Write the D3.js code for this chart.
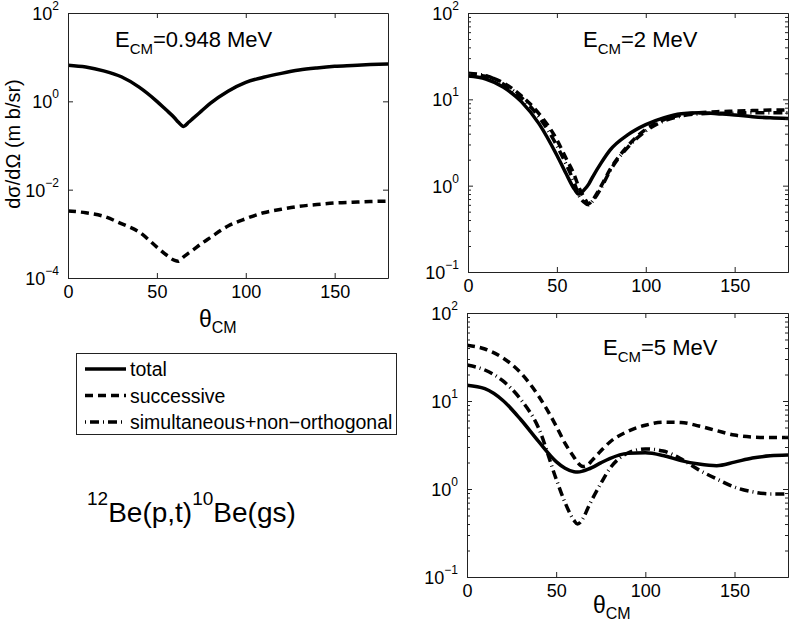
<!DOCTYPE html>
<html>
<head>
<meta charset="utf-8">
<script src="https://cdn.jsdelivr.net/npm/d3@7"></script>
<style>
body { margin: 0; background: #fff; }
svg { display: block; font-family: "Liberation Sans", Arial, sans-serif; }
</style>
</head>
<body>
<svg width="789" height="623"></svg>
<script>
'use strict';

// scattering angle grid (degrees), shared by every curve
var theta = [0, 10, 20, 30, 40, 50, 55, 60, 62, 65, 68, 70, 75, 80, 90, 100, 110, 120, 130, 140, 150, 160, 170, 180];

// E_CM = 0.948 MeV
var total948 = [6.6, 6.0, 4.9, 3.6, 2.1, 1.0, 0.65, 0.42, 0.34, 0.27, 0.34, 0.4, 0.6, 0.9, 1.7, 2.7, 3.5, 4.3, 5.1, 5.7, 6.2, 6.5, 6.8, 7.0];
var succ948 = [0.0033, 0.003, 0.0025, 0.0017, 0.0011, 0.0005, 0.00034, 0.00025, 0.00024, 0.0003, 0.00037, 0.00042, 0.0006, 0.00082, 0.0015, 0.0022, 0.003, 0.0036, 0.0042, 0.0046, 0.005, 0.0052, 0.0054, 0.0055];

// E_CM = 2 MeV
var total2 = [18.6, 17.2, 13.8, 9.4, 5.2, 2.25, 1.4, 0.9, 0.8, 0.88, 1.05, 1.25, 1.85, 2.6, 3.9, 5.1, 6.1, 6.8, 7.0, 6.8, 6.6, 6.3, 6.1, 6.0];
var succ2 = [19.5, 18.5, 15.5, 11, 6.8, 3.4, 2.1, 1.3, 1.0, 0.75, 0.62, 0.68, 1.0, 1.55, 2.9, 4.5, 5.8, 6.6, 7.0, 7.2, 7.3, 7.4, 7.5, 7.5];
var simul2 = [20, 18.8, 15, 10.5, 6.2, 2.9, 1.8, 1.05, 0.8, 0.65, 0.6, 0.66, 0.95, 1.5, 2.8, 4.3, 5.6, 6.4, 6.8, 6.9, 6.9, 7.0, 7.0, 7.0];

// E_CM = 5 MeV
var total5 = [15.1, 13.8, 10.2, 6.2, 3.5, 2.05, 1.72, 1.57, 1.56, 1.6, 1.68, 1.75, 1.98, 2.22, 2.54, 2.58, 2.4, 2.1, 1.92, 1.84, 2.02, 2.25, 2.38, 2.43];
var succ5 = [43, 39, 31, 21, 11.5, 5.2, 3.3, 2.3, 2.0, 1.8, 1.9, 2.1, 2.7, 3.4, 4.5, 5.3, 5.75, 5.7, 5.2, 4.6, 4.1, 3.9, 3.85, 3.85];
var simul5 = [25.6, 22.5, 17, 10.5, 5.0, 1.3, 0.7, 0.44, 0.4, 0.46, 0.62, 0.75, 1.15, 1.7, 2.55, 2.85, 2.7, 2.2, 1.65, 1.3, 1.05, 0.93, 0.88, 0.88];

var xTicks = [0, 50, 100, 150];
var energies = ['0.948', '2', '5'];
var legendLabels = ['total', 'successive', 'simultaneous+non\u2212orthogonal'];

// line styles for each series kind
var styles = {
    total: { dash: null, width: 3.5 },
    successive: { dash: '8,5', width: 3.5 },
    simul: { dash: '9,4,1,4', width: 3.5 }
};

var svg = d3.select('svg');

var panels = [
    { left: 68, top: 13, right: 388, bottom: 278, yDomain: [1e-4, 1e2], yTicks: [1e-4, 1e-2, 1, 1e2], minor: false,
      series: [['total', total948], ['successive', succ948]],
      title: [115, 47], xlabel: [199, 327] },
    { left: 468, top: 13, right: 788, bottom: 272, yDomain: [0.1, 100], yTicks: [0.1, 1, 10, 100], minor: true,
      series: [['simul', simul2], ['successive', succ2], ['total', total2]],
      title: [583, 47], xlabel: null },
    { left: 467, top: 313, right: 788, bottom: 577, yDomain: [0.1, 100], yTicks: [0.1, 1, 10, 100], minor: true,
      series: [['simul', simul5], ['successive', succ5], ['total', total5]],
      title: [603, 355], xlabel: [593, 613] }
];

var expText = function (d) {
    var e = Math.round(Math.log10(d));
    return e < 0 ? '\u2212' + (-e) : String(e);
};

var styleAxis = function (sel) {
    sel.attr('font-family', null).attr('font-size', 18);
    sel.select('.domain').attr('stroke', '#222');
    sel.selectAll('.tick line').attr('stroke', '#222');
    sel.selectAll('.tick text').attr('fill', '#000');
};

panels.forEach(function (p, i) {
    var x = d3.scaleLinear().domain([0, 180]).range([p.left, p.right]);
    var y = d3.scaleLog().domain(p.yDomain).range([p.bottom, p.top]);
    var g = svg.append('g');

    var clipId = 'clip' + i;
    g.append('clipPath').attr('id', clipId).append('rect')
        .attr('x', p.left).attr('y', p.top)
        .attr('width', p.right - p.left).attr('height', p.bottom - p.top);

    // curves
    var line = d3.line()
        .x(function (d) { return x(d[0]); })
        .y(function (d) { return y(d[1]); })
        .curve(d3.curveMonotoneX);

    g.append('g').attr('clip-path', 'url(#' + clipId + ')')
        .selectAll('path')
        .data(p.series)
        .enter().append('path')
        .attr('fill', 'none')
        .attr('stroke', '#000')
        .attr('stroke-width', function (s) { return styles[s[0]].width; })
        .attr('stroke-dasharray', function (s) { return styles[s[0]].dash; })
        .attr('d', function (s) {
            return line(theta.map(function (t, k) { return [t, s[1][k]]; }));
        });

    // minor ticks on log axes
    if (p.minor) {
        var minor = [];
        for (var e = Math.round(Math.log10(p.yDomain[0])); e < Math.round(Math.log10(p.yDomain[1])); e++) {
            for (var m = 2; m <= 9; m++) minor.push(m * Math.pow(10, e));
        }
        g.append('g').attr('transform', 'translate(' + p.left + ',0)')
            .call(d3.axisLeft(y).tickValues(minor).tickSize(-3).tickSizeOuter(0).tickFormat(''))
            .call(styleAxis);
        g.append('g').attr('transform', 'translate(' + p.right + ',0)')
            .call(d3.axisRight(y).tickValues(minor).tickSize(-3).tickSizeOuter(0).tickFormat(''))
            .call(styleAxis);
    }

    // frame + major ticks
    g.append('g').attr('transform', 'translate(0,' + p.bottom + ')')
        .call(d3.axisBottom(x).tickValues(xTicks).tickSize(-5).tickSizeOuter(0).tickPadding(7))
        .call(styleAxis);
    g.append('g').attr('transform', 'translate(0,' + p.top + ')')
        .call(d3.axisTop(x).tickValues(xTicks).tickSize(-5).tickSizeOuter(0).tickFormat(''))
        .call(styleAxis);
    g.append('g').attr('transform', 'translate(' + p.left + ',0)')
        .call(d3.axisLeft(y).tickValues(p.yTicks).tickSize(-5).tickSizeOuter(0).tickFormat(''))
        .call(styleAxis);
    g.append('g').attr('transform', 'translate(' + p.right + ',0)')
        .call(d3.axisRight(y).tickValues(p.yTicks).tickSize(-5).tickSizeOuter(0).tickFormat(''))
        .call(styleAxis);

    // y tick labels as 10^n
    g.selectAll('text.ylab')
        .data(p.yTicks)
        .enter().append('text')
        .attr('class', 'ylab')
        .attr('x', p.left - 9)
        .attr('y', function (d) { return y(d) + 7; })
        .attr('text-anchor', 'end')
        .attr('font-size', 18)
        .each(function (d) {
            var t = d3.select(this);
            t.append('tspan').text('10');
            t.append('tspan').attr('font-size', 12).attr('dy', -10).text(expText(d));
        });

    // panel title
    var tt = g.append('text').attr('x', p.title[0]).attr('y', p.title[1]).attr('font-size', 22);
    tt.append('tspan').text('E');
    tt.append('tspan').attr('font-size', 15).attr('dy', 7).text('CM');
    tt.append('tspan').attr('dy', -7).text('=' + energies[i] + ' MeV');

    // x label
    if (p.xlabel) {
        var xl = g.append('text').attr('x', p.xlabel[0]).attr('y', p.xlabel[1]).attr('font-size', 23);
        xl.append('tspan').text('\u03b8');
        xl.append('tspan').attr('font-size', 16).attr('dy', 6).text('CM');
    }
});

// y axis label
svg.append('text')
    .attr('transform', 'translate(20,144) rotate(-90)')
    .attr('text-anchor', 'middle')
    .attr('font-size', 20)
    .text('d\u03c3/d\u03a9 (m b/sr)');

// legend
var legend = svg.append('g');
legend.append('rect')
    .attr('x', 76.5).attr('y', 353.5).attr('width', 320).attr('height', 81)
    .attr('fill', '#fff').attr('stroke', '#222');
var legendKeys = ['total', 'successive', 'simul'];
var items = legend.selectAll('g.item')
    .data(legendKeys)
    .enter().append('g')
    .attr('class', 'item')
    .attr('transform', function (d, k) { return 'translate(0,' + (369 + k * 26.5) + ')'; });
items.append('line')
    .attr('x1', 85).attr('x2', 126).attr('y1', 0).attr('y2', 0)
    .attr('stroke', '#000')
    .attr('stroke-width', function (d) { return styles[d].width; })
    .attr('stroke-dasharray', function (d) { return d === 'simul' ? '1,4,9,4' : styles[d].dash; });
items.append('text')
    .attr('x', 130).attr('y', 7)
    .attr('font-size', 19.5)
    .text(function (d, k) { return legendLabels[k]; });

// reaction label
var r = svg.append('text').attr('x', 87).attr('y', 522).attr('font-size', 28);
r.append('tspan').attr('font-size', 19).attr('dy', -17).text('12');
r.append('tspan').attr('dy', 17).text('Be(p,t)');
r.append('tspan').attr('font-size', 19).attr('dy', -17).text('10');
r.append('tspan').attr('dy', 17).text('Be(gs)');
</script>
</body>
</html>
